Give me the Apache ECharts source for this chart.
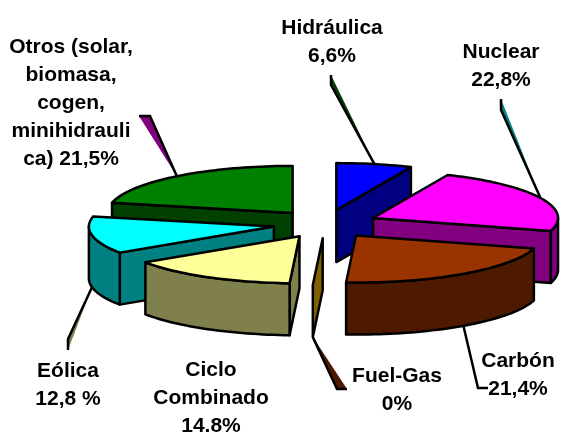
<!DOCTYPE html>
<html>
<head>
<meta charset="utf-8">
<script src="https://cdn.jsdelivr.net/npm/echarts@6/dist/echarts.min.js"></script>
<style>
html,body{margin:0;padding:0;background:#fff}
#main{width:568px;height:433px}
</style>
</head>
<body>
<div id="main"></div>
<script>
// data, clockwise from 12 o'clock
var categories = ['Hidráulica', 'Nuclear', 'Carbón', 'Fuel-Gas', 'Ciclo Combinado', 'Eólica', 'Otros'];
var values = [6.6, 22.8, 21.4, 0, 14.8, 12.8, 21.5];
var labelTexts = [
	'Hidráulica\n6,6%',
	'Nuclear\n22,8%',
	'Carbón\n21,4%',
	'Fuel-Gas\n0%',
	'Ciclo\nCombinado\n14.8%',
	'Eólica\n12,8 %',
	'Otros (solar,\nbiomasa,\ncogen,\nminihidrauli\nca) 21,5%'
];

// colours
var topColors = ['#0000ff', '#ff00ff', '#993300', '#ffcc00', '#ffff99', '#00ffff', '#008000'];
var sideColors = ['#000080', '#800080', '#4d1a00', '#806000', '#80804d', '#008080', '#004000'];
var leaderFills = ['#004000', '#008080', null, '#4d1a00', null, '#80804d', '#800080'];

// layout of the fake 3d pie
var centerX = 325.5, centerY = 224;
var radiusX = 185, radiusY = 47;
var explodeX = 52.5, explodeY = 14.2;
var depth = 52;

// label centre [x, y of the first line], leader elbow and end, null = no leader
var labelPos = [[332, 28], [501, 52], [518, 361], [397, 376], [211, 370], [68, 371], [71, 47]];
var leaderElbow = [[331, 85], [501, 110], [478, 388], [337, 389], null, [68, 339], [150, 116]];
var leaderEnd = [[331, 75], [501, 99], [488, 388], [347, 389], null, [68, 350], [139, 116]];

var total = values.reduce(function (a, b) { return a + b; }, 0);

// start and end angle of each slice, in radians from 12 o'clock
var slices = [];
var acc = 0;
values.forEach(function (v, i) {
	var a0 = acc / total * Math.PI * 2;
	acc += v;
	var a1 = acc / total * Math.PI * 2;
	var mid = (a0 + a1) / 2;
	slices.push({
		idx: i,
		a0: a0,
		a1: a1,
		mid: mid,
		ax: centerX + explodeX * Math.sin(mid),
		ay: centerY - explodeY * Math.cos(mid)
	});
});

// back slices first so the front ones cover them
var drawOrder = slices.slice().sort(function (p, q) {
	return Math.cos(q.mid) - Math.cos(p.mid);
});

function rim(s, a, dz) {
	return [s.ax + radiusX * Math.sin(a), s.ay - radiusY * Math.cos(a) + dz];
}

function arcPoints(s, a0, a1, dz) {
	var pts = [];
	var n = Math.max(1, Math.ceil((a1 - a0) / 0.03));
	for (var k = 0; k <= n; k++) {
		pts.push(rim(s, a0 + (a1 - a0) * k / n, dz));
	}
	return pts;
}

function poly(points, fill) {
	return {
		type: 'polygon',
		shape: { points: points },
		style: { fill: fill, stroke: '#000', lineWidth: 2.5, lineJoin: 'round' }
	};
}

function sliceShapes(s) {
	var out = [];
	var side = sideColors[s.idx];
	var apex = [s.ax, s.ay];
	var apexLow = [s.ax, s.ay + depth];

	// cut faces, only those turned to the viewer
	var st = rim(s, s.a0, 0), en = rim(s, s.a1, 0);
	if (st[0] < s.ax) {
		out.push(poly([apex, st, rim(s, s.a0, depth), apexLow], side));
	}
	if (en[0] > s.ax && s.a1 > s.a0) {
		out.push(poly([en, apex, apexLow, rim(s, s.a1, depth)], side));
	}

	// outer wall, the part between 3 and 9 o'clock
	var w0 = Math.max(s.a0, Math.PI / 2), w1 = Math.min(s.a1, Math.PI * 1.5);
	if (w1 > w0) {
		out.push(poly(arcPoints(s, w0, w1, 0).concat(arcPoints(s, w0, w1, depth).reverse()), side));
	}

	// top
	if (s.a1 > s.a0) {
		out.push(poly([apex].concat(arcPoints(s, s.a0, s.a1, 0)), topColors[s.idx]));
	}
	return out;
}

function leaderShapes(s) {
	var out = [];
	var i = s.idx;
	if (!leaderElbow[i]) {
		return out;
	}
	// leader starts on the rim at the slice's mid angle, on the wall if it faces front
	var dz = Math.cos(s.mid) < 0 ? depth : 0;
	var p = rim(s, s.mid, dz);
	if (leaderFills[i]) {
		out.push({
			type: 'polygon',
			shape: { points: [p, leaderElbow[i], leaderEnd[i]] },
			style: { fill: leaderFills[i] }
		});
	}
	out.push({
		type: 'polyline',
		shape: { points: [p, leaderElbow[i], leaderEnd[i]] },
		style: { fill: null, stroke: '#000', lineWidth: 2.5 }
	});
	return out;
}

function labelShape(i) {
	return {
		type: 'text',
		style: {
			text: labelTexts[i],
			x: labelPos[i][0],
			y: labelPos[i][1] - 14,
			align: 'center',
			verticalAlign: 'top',
			fill: '#000',
			font: 'bold 21px "Liberation Sans", Arial, sans-serif',
			lineHeight: 28
		}
	};
}

var myChart = echarts.init(document.getElementById('main'), null, { renderer: 'canvas' });

myChart.setOption({
	backgroundColor: '#fff',
	animation: false,
	series: [{
		type: 'custom',
		coordinateSystem: 'none',
		silent: true,
		data: categories.map(function (name, i) { return { name: name, value: values[i] }; }),
		renderItem: function (params) {
			// everything is painted once, in depth order
			if (params.dataIndex !== 0) {
				return { type: 'group', children: [] };
			}
			var children = [];
			slices.forEach(function (s) {
				children = children.concat(leaderShapes(s));
			});
			drawOrder.forEach(function (s) {
				children = children.concat(sliceShapes(s));
			});
			categories.forEach(function (name, i) {
				children.push(labelShape(i));
			});
			return { type: 'group', children: children };
		}
	}]
});
</script>
</body>
</html>
